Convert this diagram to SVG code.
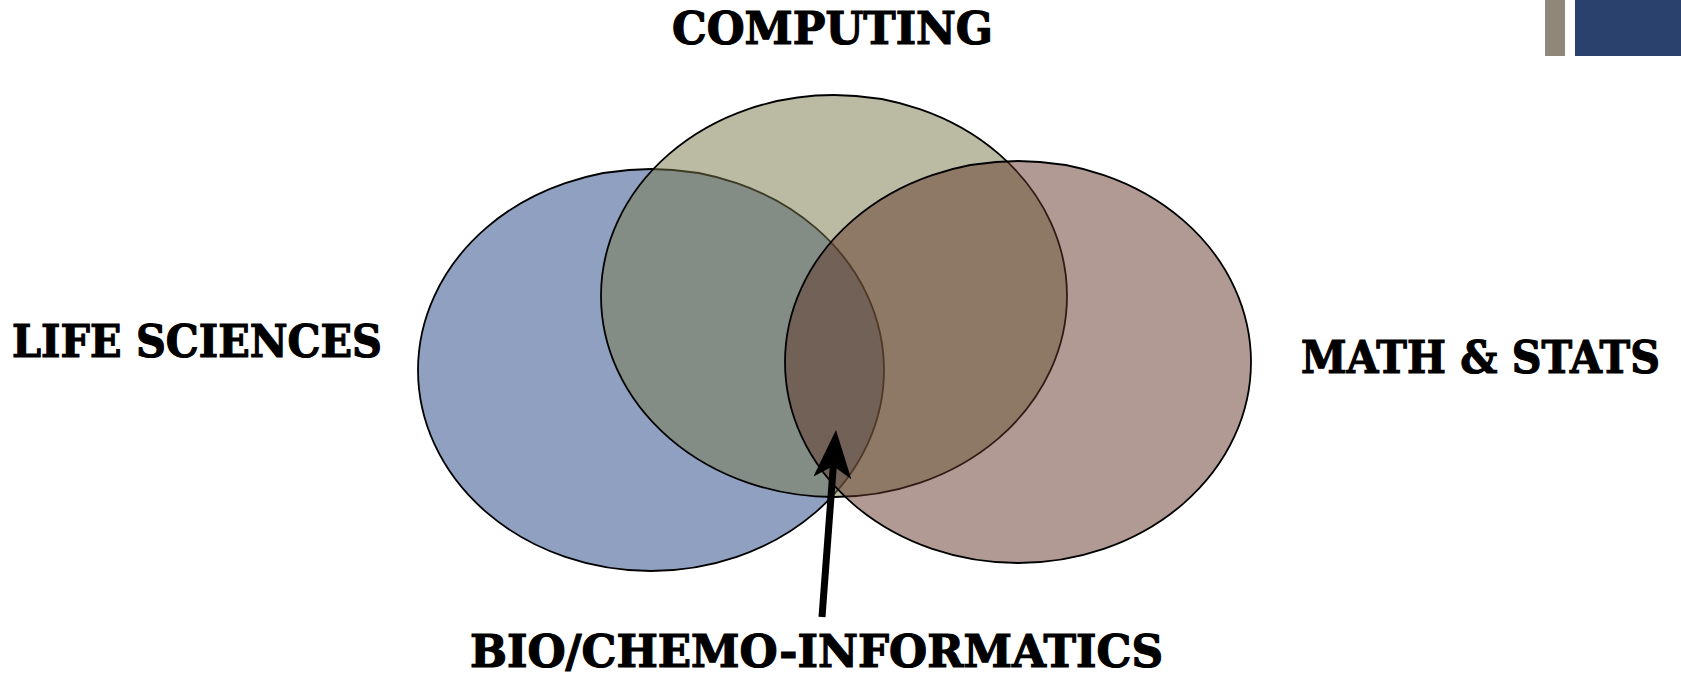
<svg xmlns="http://www.w3.org/2000/svg" width="1681" height="675" viewBox="0 0 1681 675">
  <style>
    .set { stroke: #000; stroke-width: 1.8; fill-opacity: 0.5; }
    .label { font-family: "DejaVu Serif", "Liberation Serif", serif; font-weight: bold; font-size: 45px; fill: #000; stroke: #000; stroke-width: 1.2; }
  </style>
  <defs>
    <marker id="stealth" markerUnits="userSpaceOnUse" viewBox="0 0 48 38" refX="12" refY="19" markerWidth="48" markerHeight="38" orient="auto">
      <path d="M0,0 L48,19 L0,38 L12,19 Z" fill="#000"/>
    </marker>
  </defs>

  <!-- corner accent bars -->
  <rect x="1545" y="0" width="20" height="56" fill="#8f887a"/>
  <rect x="1575" y="0" width="106" height="56" fill="#2a416e"/>

  <!-- set ellipses -->
  <g id="life-sciences">
    <ellipse class="set" cx="651" cy="370" rx="233" ry="201" fill="#1f4181" stroke-width="2.2"/>
  </g>
  <g id="computing">
    <ellipse class="set" cx="834" cy="296" rx="233" ry="201" fill="#777749"/>
  </g>
  <g id="math-stats">
    <ellipse class="set" cx="1018" cy="362" rx="233" ry="201" fill="#613527"/>
  </g>

  <!-- labels -->
  <g id="label-computing">
    <text class="label" x="672" y="44" textLength="321" lengthAdjust="spacingAndGlyphs">COMPUTING</text>
  </g>
  <g id="label-life-sciences">
    <text class="label" x="12" y="357" textLength="370" lengthAdjust="spacingAndGlyphs">LIFE SCIENCES</text>
  </g>
  <g id="label-math-stats">
    <text class="label" x="1660" y="373" text-anchor="end" textLength="359" lengthAdjust="spacingAndGlyphs">MATH &amp; STATS</text>
  </g>
  <g id="label-bioinformatics">
    <text class="label" x="470" y="667" textLength="693" lengthAdjust="spacingAndGlyphs">BIO/CHEMO-INFORMATICS</text>
  </g>

  <!-- pointer from the bottom label into the triple overlap -->
  <g id="connectors">
    <line x1="822" y1="617" x2="833.3" y2="465.9" stroke="#000" stroke-width="7" marker-end="url(#stealth)"/>
  </g>
</svg>
